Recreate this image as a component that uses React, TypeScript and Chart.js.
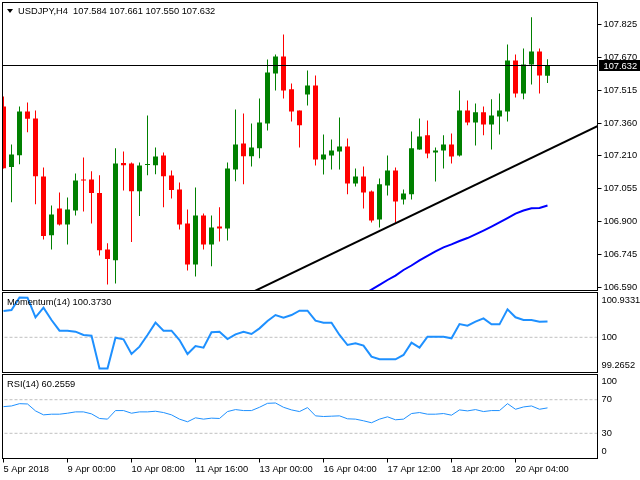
import React, { useEffect, useRef } from "react";
import { Chart, registerables } from "chart.js";

Chart.register(...registerables);

// ---------- data ----------
const SYMBOL = "USDJPY,H4";

const OPEN = [
  107.440, 107.155, 107.211, 107.416, 107.383, 107.111, 106.835, 106.961, 106.886, 106.951,
  107.097, 107.097, 107.033, 106.768, 106.718, 107.174, 107.172, 107.042, 107.165, 107.164,
  107.210, 107.116, 107.050, 106.890, 106.698, 106.928, 106.792, 106.876, 106.867, 107.144,
  107.266, 107.206, 107.243, 107.360, 107.595, 107.674, 107.520, 107.421, 107.496, 107.538,
  107.191, 107.210, 107.228, 107.252, 107.078, 107.111, 107.041, 106.909, 107.069, 107.139,
  107.003, 107.027, 107.238, 107.304, 107.224, 107.233, 107.261, 107.210, 107.421, 107.365,
  107.412, 107.355, 107.393, 107.416, 107.656, 107.501, 107.637, 107.698, 107.584,
];
const HIGH = [
  107.487, 107.261, 107.440, 107.458, 107.421, 107.153, 106.975, 107.036, 107.012, 107.125,
  107.200, 107.135, 107.117, 106.797, 107.243, 107.228, 107.177, 107.177, 107.397, 107.247,
  107.224, 107.139, 107.083, 106.956, 107.059, 106.937, 106.928, 106.966, 107.177, 107.426,
  107.407, 107.360, 107.477, 107.660, 107.684, 107.778, 107.548, 107.421, 107.609, 107.585,
  107.308, 107.285, 107.388, 107.289, 107.149, 107.158, 107.045, 107.102, 107.210, 107.153,
  107.050, 107.322, 107.383, 107.374, 107.247, 107.304, 107.313, 107.515, 107.468, 107.454,
  107.440, 107.473, 107.501, 107.731, 107.684, 107.712, 107.858, 107.712, 107.661,
];
const LOW = [
  107.148, 106.990, 107.169, 107.319, 106.981, 106.815, 106.768, 106.881, 106.792, 106.928,
  106.947, 106.890, 106.740, 106.604, 106.609, 107.045, 106.803, 106.925, 107.117, 107.122,
  106.966, 107.008, 106.862, 106.670, 106.642, 106.768, 106.689, 106.806, 106.811, 107.089,
  107.074, 107.158, 107.196, 107.327, 107.515, 107.477, 107.369, 107.247, 107.444, 107.163,
  107.120, 107.144, 107.144, 107.027, 107.064, 106.961, 106.895, 106.872, 107.022, 106.895,
  106.980, 107.003, 107.236, 107.196, 107.088, 107.149, 107.172, 107.205, 107.351, 107.257,
  107.304, 107.238, 107.308, 107.369, 107.482, 107.473, 107.543, 107.501, 107.550,
];
const CLOSE = [
  107.150, 107.214, 107.416, 107.382, 107.112, 106.831, 106.933, 106.886, 106.956, 107.092,
  107.092, 107.033, 106.765, 106.723, 107.172, 107.164, 107.042, 107.163, 107.167, 107.205,
  107.112, 107.047, 106.886, 106.698, 106.928, 106.792, 106.872, 106.867, 107.149, 107.261,
  107.206, 107.247, 107.365, 107.599, 107.674, 107.515, 107.416, 107.351, 107.538, 107.191,
  107.214, 107.233, 107.252, 107.078, 107.111, 107.036, 106.904, 107.074, 107.139, 106.994,
  107.031, 107.243, 107.299, 107.219, 107.233, 107.261, 107.205, 107.421, 107.365, 107.412,
  107.355, 107.397, 107.421, 107.656, 107.501, 107.637, 107.698, 107.585, 107.632,
];

// moving average (blue), starting at candle index MA_START
const MA_START = 45;
const MA = [
  106.557, 106.580, 106.602, 106.625, 106.646, 106.672, 106.693, 106.717, 106.738, 106.759,
  106.778, 106.792, 106.808, 106.822, 106.839, 106.857, 106.876, 106.896, 106.916, 106.937,
  106.951, 106.962, 106.963, 106.975,
];

// trend line anchors (candle index, price)
const TREND_X = [30, 75];
const TREND_Y = [106.548, 107.361];

const MOMENTUM = [
  100.617, 100.641, 100.9331, 100.930, 100.469, 100.696, 100.406, 100.156, 100.156, 100.132,
  100.054, 100.038, 99.2652, 99.270, 99.991, 99.952, 99.608, 99.780, 100.054, 100.344,
  100.156, 100.156, 99.937, 99.608, 99.796, 99.757, 100.117, 100.132, 99.960, 100.070,
  100.132, 100.077, 100.210, 100.383, 100.523, 100.461, 100.523, 100.625, 100.625, 100.390,
  100.344, 100.344, 100.054, 99.819, 99.858, 99.804, 99.545, 99.483, 99.483, 99.483,
  99.585, 99.874, 99.757, 100.015, 100.015, 100.015, 99.976, 100.312, 100.273, 100.367,
  100.445, 100.304, 100.304, 100.657, 100.469, 100.406, 100.406, 100.367, 100.373,
];

const RSI = [
  61.76, 62.55, 65.29, 64.90, 56.67, 51.96, 52.75, 52.75, 53.92, 55.49,
  55.49, 53.14, 47.65, 46.86, 57.06, 57.06, 53.92, 55.49, 55.49, 56.27,
  54.71, 51.96, 46.86, 43.73, 48.43, 46.86, 48.04, 47.65, 55.88, 58.24,
  57.06, 57.06, 60.98, 65.69, 66.08, 60.98, 57.84, 55.88, 60.59, 50.78,
  50.00, 50.39, 50.78, 47.25, 46.86, 44.90, 42.55, 46.86, 49.61, 46.08,
  46.86, 53.53, 54.71, 52.75, 52.75, 53.53, 51.57, 57.84, 56.67, 58.24,
  55.88, 57.06, 57.06, 65.29, 58.63, 61.37, 62.55, 58.63, 60.2559,
];

const PRICE_TICKS = [106.590, 106.745, 106.900, 107.055, 107.210, 107.360, 107.515, 107.670, 107.825];
const RSI_TICKS = [0, 30, 70, 100];
const RSI_LEVELS = [30, 70];
const MOMENTUM_LEVEL = 100;

const TIME_TICKS = [0, 8, 16, 24, 32, 40, 48, 56, 64];
const TIME_LABELS = [
  "5 Apr 2018", "9 Apr 00:00", "10 Apr 08:00", "11 Apr 16:00", "13 Apr 00:00",
  "16 Apr 04:00", "17 Apr 12:00", "18 Apr 20:00", "20 Apr 04:00",
];

// ---------- view settings ----------
const FONT = "'Liberation Sans', Arial, sans-serif";
const FS = 9.3;
const GREEN = "#008000";
const RED = "#ff0000";
const IND_BLUE = "#1e90ff";
const X_MIN = -0.125;
const X_MAX = 74.25;
const PRICE_MIN = 106.5757;
const PRICE_MAX = 107.9278;
const MOM_MIN = 99.1737;
const MOM_MAX = 101.0516;

const N = OPEN.length;
const IDX = OPEN.map((_, i) => i);
const LAST = N - 1;

const framePlugin = {
  id: "frame",
  afterDraw(chart: any) {
    const { ctx, chartArea: a } = chart;
    ctx.save();
    ctx.strokeStyle = "#000";
    ctx.lineWidth = 1;
    ctx.strokeRect(a.left, a.top, a.right - a.left, a.bottom - a.top);
    ctx.restore();
  },
};

function sideLabels(values: number[], labels: string[], margin: number) {
  return {
    id: "sideLabels",
    afterDraw(chart: any) {
      const s = chart.scales.y;
      const a = chart.chartArea;
      const ctx = chart.ctx;
      ctx.save();
      ctx.font = `${FS}px ${FONT}`;
      ctx.fillStyle = "#000";
      ctx.textBaseline = "middle";
      ctx.textAlign = "left";
      values.forEach((v, i) => {
        let y = s.getPixelForValue(v);
        y = Math.min(Math.max(y, a.top + margin), a.bottom - margin);
        ctx.fillText(labels[i], a.right + 4, y);
      });
      ctx.restore();
    },
  };
}

const priceBoxPlugin = {
  id: "priceBox",
  afterDraw(chart: any) {
    const s = chart.scales.y;
    const a = chart.chartArea;
    const ctx = chart.ctx;
    const y = Math.round(s.getPixelForValue(CLOSE[LAST]));
    ctx.save();
    ctx.fillStyle = "#000";
    ctx.fillRect(a.right + 1.5, y - 6, 42, 11);
    ctx.fillStyle = "#fff";
    ctx.font = `${FS}px ${FONT}`;
    ctx.textBaseline = "middle";
    ctx.textAlign = "left";
    ctx.fillText(CLOSE[LAST].toFixed(3), a.right + 6, y);
    ctx.restore();
  },
};

const hiddenX = { type: "linear", min: X_MIN, max: X_MAX, display: false, offset: false };

function baseOptions(padTop: number, padBottom: number) {
  return {
    responsive: false,
    animation: false,
    events: [],
    devicePixelRatio: 1,
    layout: { padding: { left: 2.5, top: padTop, right: 0, bottom: padBottom } },
    plugins: { legend: { display: false }, tooltip: { enabled: false }, title: { display: false } },
  };
}

function rightAxisFit(s: any) {
  s.width = 42.5;
  s.paddingTop = 0;
  s.paddingBottom = 0;
}

function mainConfig(): any {
  const colors = IDX.map((i) => (CLOSE[i] >= OPEN[i] ? GREEN : RED));
  return {
    type: "line",
    data: {
      datasets: [
        {
          type: "line", label: "Last", order: 0,
          data: [{ x: X_MIN - 1, y: CLOSE[LAST] }, { x: X_MAX + 1, y: CLOSE[LAST] }],
          borderColor: "#000", borderWidth: 1, pointRadius: 0,
        },
        {
          type: "line", label: "Trend", order: 0,
          data: TREND_X.map((x, k) => ({ x, y: TREND_Y[k] })),
          borderColor: "#000", borderWidth: 2, pointRadius: 0,
        },
        {
          type: "line", label: "MA", order: 0,
          data: MA.map((v, k) => ({ x: MA_START + k, y: v })),
          borderColor: "#0000ff", borderWidth: 2, pointRadius: 0,
        },
        {
          type: "bar", label: "Body", order: 1,
          data: IDX.map((i) => ({ x: i, y: [OPEN[i], CLOSE[i]] })),
          backgroundColor: colors, barThickness: 5, grouped: false,
          minBarLength: 1, inflateAmount: 0, borderWidth: 0,
        },
        {
          type: "bar", label: "Wick", order: 2,
          data: IDX.map((i) => ({ x: i, y: [LOW[i], HIGH[i]] })),
          backgroundColor: colors, barThickness: 1, grouped: false,
          inflateAmount: 0, borderWidth: 0,
        },
      ],
    },
    options: {
      ...baseOptions(2.5, 0.5),
      scales: {
        x: hiddenX,
        y: {
          type: "linear", position: "right", min: PRICE_MIN, max: PRICE_MAX,
          afterBuildTicks: (s: any) => { s.ticks = PRICE_TICKS.map((v) => ({ value: v })); },
          afterFit: rightAxisFit,
          ticks: {
            autoSkip: false, padding: 2, color: "#000",
            font: { family: FONT, size: FS },
            callback: (v: any) => Number(v).toFixed(3),
          },
          grid: { display: true, drawOnChartArea: false, drawTicks: true, tickLength: 4, color: "#000", lineWidth: 1 },
          border: { display: false },
        },
      },
    },
    plugins: [framePlugin, priceBoxPlugin],
  };
}

function momentumConfig(): any {
  const mx = Math.max(...MOMENTUM);
  const mn = Math.min(...MOMENTUM);
  return {
    type: "line",
    data: {
      datasets: [
        {
          label: "Momentum(14)", order: 0,
          data: IDX.map((i) => ({ x: i, y: MOMENTUM[i] })),
          borderColor: IND_BLUE, borderWidth: 2, pointRadius: 0,
        },
        {
          label: "Level", order: 1,
          data: [{ x: X_MIN - 1, y: MOMENTUM_LEVEL }, { x: X_MAX + 1, y: MOMENTUM_LEVEL }],
          borderColor: "#c0c0c0", borderWidth: 1, borderDash: [3, 2], pointRadius: 0,
        },
      ],
    },
    options: {
      ...baseOptions(1.5, 0.5),
      scales: {
        x: hiddenX,
        y: {
          type: "linear", position: "right", min: MOM_MIN, max: MOM_MAX,
          afterFit: rightAxisFit,
          ticks: { display: false },
          grid: { display: false },
          border: { display: false },
        },
      },
    },
    plugins: [
      framePlugin,
      sideLabels([mx, MOMENTUM_LEVEL, mn], [mx.toFixed(4), String(MOMENTUM_LEVEL), mn.toFixed(4)], 7.5),
    ],
  };
}

function rsiConfig(): any {
  return {
    type: "line",
    data: {
      datasets: [
        {
          label: "RSI(14)", order: 0,
          data: IDX.map((i) => ({ x: i, y: RSI[i] })),
          borderColor: IND_BLUE, borderWidth: 1, pointRadius: 0,
        },
        ...RSI_LEVELS.map((lv) => ({
          label: "Level " + lv, order: 1,
          data: [{ x: X_MIN - 1, y: lv }, { x: X_MAX + 1, y: lv }],
          borderColor: "#c0c0c0", borderWidth: 1, borderDash: [3, 2], pointRadius: 0,
        })),
      ],
    },
    options: {
      ...baseOptions(1.5, 0),
      scales: {
        x: {
          type: "linear", min: X_MIN, max: X_MAX, offset: false, position: "bottom",
          afterBuildTicks: (s: any) => { s.ticks = TIME_TICKS.map((v) => ({ value: v })); },
          afterFit: (s: any) => { s.height = 21.5; s.paddingLeft = 0; s.paddingRight = 0; },
          ticks: {
            autoSkip: false, maxRotation: 0, minRotation: 0, align: "start", padding: 1,
            color: "#000", font: { family: FONT, size: FS },
            callback: (_v: any, i: number) => TIME_LABELS[i],
          },
          grid: { display: true, drawOnChartArea: false, drawTicks: true, tickLength: 4, color: "#000", offset: false },
          border: { display: false },
        },
        y: {
          type: "linear", position: "right", min: 0, max: 100,
          afterFit: rightAxisFit,
          ticks: { display: false },
          grid: { display: false },
          border: { display: false },
        },
      },
    },
    plugins: [framePlugin, sideLabels(RSI_TICKS, RSI_TICKS.map(String), 7)],
  };
}

const TITLE = `${SYMBOL}  ${OPEN[LAST].toFixed(3)} ${HIGH[LAST].toFixed(3)} ${LOW[LAST].toFixed(3)} ${CLOSE[LAST].toFixed(3)}`;
const MOM_TITLE = `Momentum(14) ${MOMENTUM[LAST].toFixed(4)}`;
const RSI_TITLE = `RSI(14) ${RSI[LAST].toFixed(4)}`;

const textStyle: any = {
  position: "absolute",
  fontFamily: FONT,
  fontSize: FS,
  lineHeight: "12px",
  whiteSpace: "pre",
  color: "#000",
};

export default function App() {
  const mainRef = useRef<HTMLCanvasElement>(null);
  const momRef = useRef<HTMLCanvasElement>(null);
  const rsiRef = useRef<HTMLCanvasElement>(null);

  useEffect(() => {
    const charts = [
      new Chart(mainRef.current as HTMLCanvasElement, mainConfig()),
      new Chart(momRef.current as HTMLCanvasElement, momentumConfig()),
      new Chart(rsiRef.current as HTMLCanvasElement, rsiConfig()),
    ];
    return () => charts.forEach((c) => c.destroy());
  }, []);

  return (
    <div style={{ position: "absolute", left: 0, top: 0, width: 640, height: 480, background: "#fff", overflow: "hidden" }}>
      <canvas ref={mainRef} width={640} height={291} style={{ position: "absolute", left: 0, top: 0 }} />
      <canvas ref={momRef} width={640} height={82} style={{ position: "absolute", left: 0, top: 291 }} />
      <canvas ref={rsiRef} width={640} height={107} style={{ position: "absolute", left: 0, top: 373 }} />
      <div
        style={{
          position: "absolute", left: 7, top: 9, width: 0, height: 0,
          borderLeft: "3px solid transparent", borderRight: "3px solid transparent", borderTop: "4px solid #000",
        }}
      />
      <div style={{ ...textStyle, left: 18, top: 5 }}>{TITLE}</div>
      <div style={{ ...textStyle, left: 7, top: 296 }}>{MOM_TITLE}</div>
      <div style={{ ...textStyle, left: 7, top: 378 }}>{RSI_TITLE}</div>
    </div>
  );
}
